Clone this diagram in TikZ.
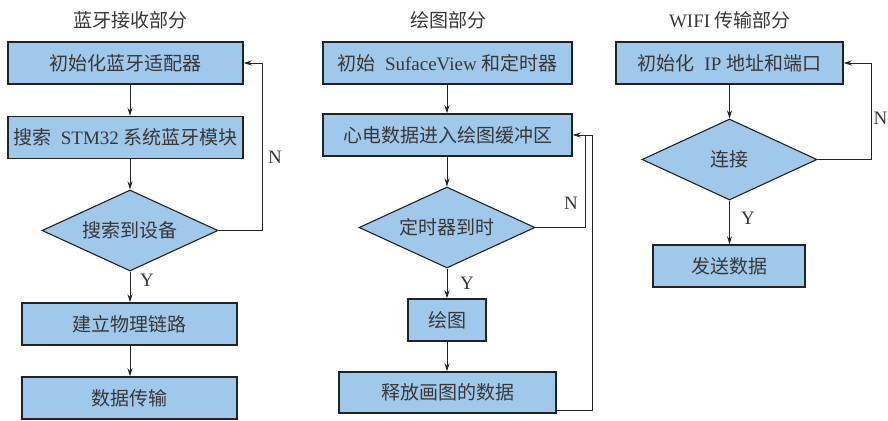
\documentclass[tikz,border=0pt]{standalone}
\usepackage{fontspec}
\setmainfont{Liberation Serif}
\newfontfamily\cjk{Noto Sans CJK SC}
\newcommand{\zh}[1]{{\cjk #1}}
\usetikzlibrary{shapes.geometric,arrows.meta}

\definecolor{boxblue}{RGB}{160,200,235}
\definecolor{boxline}{RGB}{35,35,35}
\definecolor{txtgray}{RGB}{55,55,55}

\tikzset{
  process/.style={draw=boxline, fill=boxblue, line width=1.5pt, inner sep=0pt,
    minimum height=42pt, text=txtgray, font=\fontsize{19}{21}\selectfont},
  decision/.style={diamond, aspect=2.2, draw=boxline, fill=boxblue, line width=1.1pt, inner sep=0pt,
    minimum width=176pt, minimum height=81pt, text=txtgray, font=\fontsize{19}{21}\selectfont},
  heading/.style={text=txtgray, font=\fontsize{19}{21}\selectfont},
  flow/.style={draw=boxline, line width=0.8pt, -{Stealth[length=8pt,width=5pt]}},
  loopline/.style={draw=boxline, line width=0.8pt},
  tag/.style={text=txtgray, font=\fontsize{19}{21}\selectfont}
}

\begin{document}
\begin{tikzpicture}[x=1pt,y=-1pt]
  \useasboundingbox (0,0) rectangle (888,420);

  % bluetooth part
  \node[heading] (title1) at (130,20) {\zh{蓝牙接收部分}};
  \node[process, minimum width=235pt] (init1) at (125.5,63) {\zh{初始化蓝牙适配器}};
  \node[process, minimum width=235pt] (scan1) at (125.5,137.5) {\zh{搜索}\ \ STM32 \zh{系统蓝牙模块}};
  \node[decision] (found1) at (130,230.5) {\zh{搜索到设备}};
  \node[process, minimum width=215pt] (link1) at (129.5,324) {\zh{建立物理链路}};
  \node[process, minimum width=215pt] (trans1) at (129.5,398) {\zh{数据传输}};
  \coordinate (back1) at (262,63);

  \draw[flow] (init1.south -| found1.north) -- (scan1.north -| found1.north);
  \draw[flow] (scan1.south -| found1.north) -- (found1.north);
  \draw[flow] (found1.south) -- (link1.north -| found1.south);
  \draw[flow] (link1.south -| found1.south) -- (trans1.north -| found1.south);
  \draw[flow] (found1.east) -| (back1) -- (init1.east);
  \node[tag] (n1) at (275,157) {N};
  \node[tag] (y1) at (147,280) {Y};

  % drawing part
  \node[heading] (title2) at (448,20) {\zh{绘图部分}};
  \node[process, minimum width=249pt] (init2) at (447.5,63) {\zh{初始}\ \ SufaceView \zh{和定时器}};
  \node[process, minimum width=249pt] (buf2) at (447.5,135) {\zh{心电数据进入绘图缓冲区}};
  \node[decision] (timer2) at (447,227.5) {\zh{定时器到时}};
  \node[process, minimum width=78pt] (draw2) at (447,320) {\zh{绘图}};
  \node[process, minimum width=217pt, minimum height=41pt] (free2) at (447.5,392.5) {\zh{释放画图的数据}};
  \coordinate (inner2) at (585,135);
  \coordinate (outer2) at (592,135);

  \draw[flow] (init2.south -| timer2.north) -- (buf2.north -| timer2.north);
  \draw[flow] (buf2.south -| timer2.north) -- (timer2.north);
  \draw[flow] (timer2.south) -- (draw2.north);
  \draw[flow] (draw2.south) -- (free2.north -| draw2.south);
  \draw[loopline] (timer2.east) -| (inner2);
  \draw[flow] ([yshift=3pt]free2.south east) -| (outer2) -- (buf2.east);
  \node[tag] (n2) at (571,203) {N};
  \node[tag] (y2) at (467,283) {Y};

  % wifi part
  \node[heading] (title3) at (730,20) {WIFI \zh{传输部分}};
  \node[process, minimum width=227pt] (init3) at (729.5,63) {\zh{初始化}\ \ IP \zh{地址和端口}};
  \node[decision, minimum width=175pt] (conn3) at (729.5,159.5) {\zh{连接}};
  \node[process, minimum width=152pt] (send3) at (729,266) {\zh{发送数据}};
  \coordinate (back3) at (871,63);

  \draw[flow] (init3.south -| conn3.north) -- (conn3.north);
  \draw[flow] (conn3.south) -- (send3.north -| conn3.south);
  \draw[flow] (conn3.east) -| (back3) -- (init3.east);
  \node[tag] (n3) at (880.5,118) {N};
  \node[tag] (y3) at (748,218) {Y};
\end{tikzpicture}
\end{document}
